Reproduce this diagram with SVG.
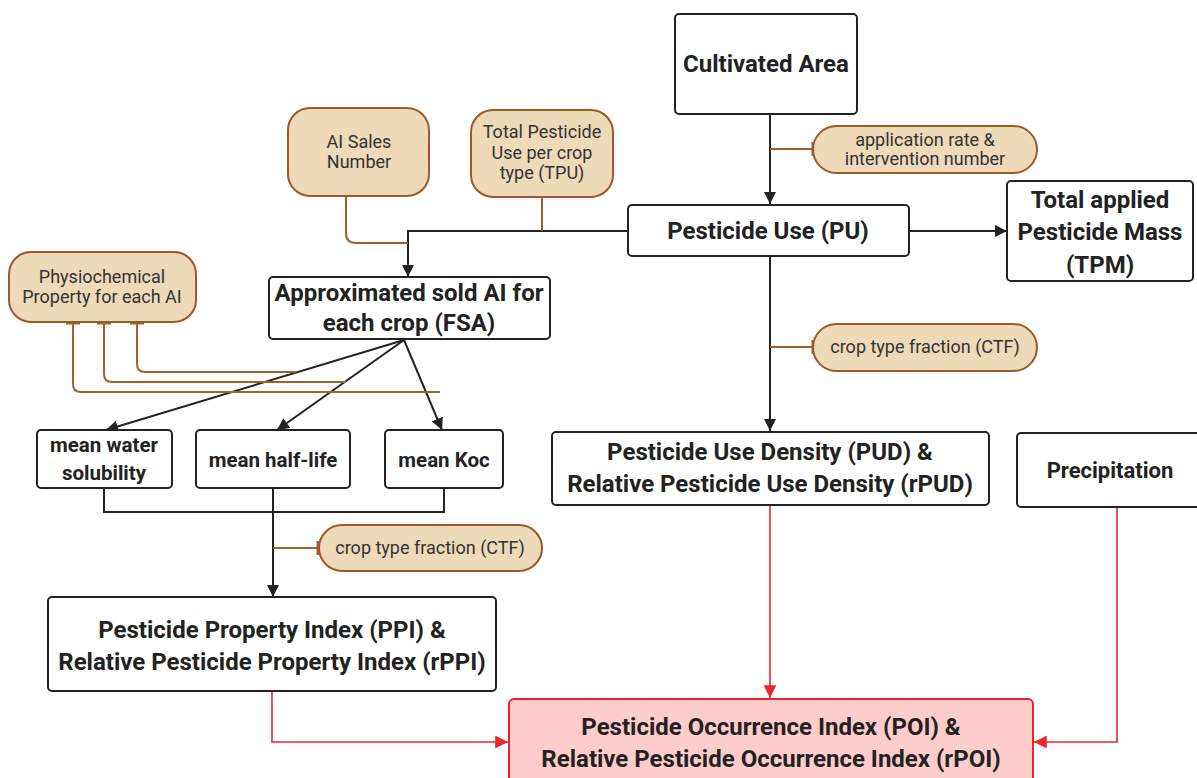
<svg xmlns="http://www.w3.org/2000/svg" width="1197" height="778" viewBox="0 0 1197 778">
<defs>
<style>
.box{fill:#fff;stroke:#222;stroke-width:2}
.pill{fill:#eed9b9;stroke:#9a5a2a;stroke-width:2}
.poi{fill:#ffcccc;stroke:#e8262b;stroke-width:2}
.bt{font-family:Roboto,'Liberation Sans',sans-serif;font-weight:bold;fill:#222;text-anchor:middle}
.pt{font-family:Roboto,'Liberation Sans',sans-serif;fill:#333;text-anchor:middle;font-size:18px}
.blk{fill:none;stroke:#222;stroke-width:2}
.brn{fill:none;stroke:#a0622d;stroke-width:2}
.red{fill:none;stroke:#e8262b;stroke-width:1.6}
.tee{stroke:#a0622d;stroke-width:3}
</style>
<marker id="ab" viewBox="0 0 10 10" refX="10" refY="5" markerWidth="6" markerHeight="6" markerUnits="strokeWidth" orient="auto"><path d="M0,0 L10,5 L0,10 z" fill="#222"/></marker>
<marker id="ar" viewBox="0 0 10 10" refX="10" refY="5" markerWidth="8" markerHeight="8" markerUnits="strokeWidth" orient="auto"><path d="M0,0 L10,5 L0,10 z" fill="#e8262b"/></marker>
</defs>
<rect width="1197" height="778" fill="#fff"/>

<g id="connectors">
<path class="blk" d="M770,115 V204" marker-end="url(#ab)"/>
<path class="blk" d="M909,231 H1007" marker-end="url(#ab)"/>
<path class="blk" d="M628,231 H408 V277" marker-end="url(#ab)"/>
<path class="blk" d="M770,257 V431" marker-end="url(#ab)"/>
<path class="blk" d="M404,340 L106,430" stroke-width="1.6" marker-end="url(#ab)"/>
<path class="blk" d="M404,340 L277,430" stroke-width="2.4" marker-end="url(#ab)"/>
<path class="blk" d="M404,340 L442,430" stroke-width="1.6" marker-end="url(#ab)"/>
<path class="blk" d="M104,488 V512 H444 V488"/>
<path class="blk" d="M273,488 V597" marker-end="url(#ab)"/>
<path class="brn" d="M346,196 V233 Q346,243 356,243 H408"/>
<path class="brn" d="M542,197 V231"/>
<path class="brn" d="M770,149 H813"/>
<line class="tee" x1="813" y1="142" x2="813" y2="156"/>
<path class="brn" d="M770,347 H813"/>
<line class="tee" x1="813" y1="340" x2="813" y2="354"/>
<path class="brn" d="M273,548 H318"/>
<line class="tee" x1="318" y1="541" x2="318" y2="555"/>
<path class="brn" d="M137,322 V364 Q137,372 145,372 H296"/>
<path class="brn" d="M104,322 V374 Q104,382 112,382 H346"/>
<path class="brn" d="M73,322 V384 Q73,392 81,392 H440"/>
<line class="tee" x1="66" y1="323" x2="80" y2="323"/>
<line class="tee" x1="97" y1="323" x2="111" y2="323"/>
<line class="tee" x1="130" y1="323" x2="144" y2="323"/>
<path class="red" d="M770,506 V698" marker-end="url(#ar)"/>
<path class="red" d="M272,692 V742 H508" marker-end="url(#ar)"/>
<path class="red" d="M1117,508 V742 H1034" marker-end="url(#ar)"/>
</g>

<g id="cultivated"><rect class="box" x="675" y="14" width="182" height="100" rx="4"/><text class="bt" x="766" y="72" font-size="24">Cultivated Area</text></g>
<g id="apprate"><rect class="pill" x="813" y="126" width="224" height="47" rx="23.5"/><text class="pt" x="925" y="146">application rate &amp;</text><text class="pt" x="925" y="165">intervention number</text></g>
<g id="pu"><rect class="box" x="628" y="205" width="281" height="51" rx="4"/><text class="bt" x="768" y="239" font-size="24">Pesticide Use (PU)</text></g>
<g id="tpm"><rect class="box" x="1007" y="181" width="186" height="100" rx="4"/><text class="bt" x="1100" y="208" font-size="24">Total applied</text><text class="bt" x="1100" y="240" font-size="24">Pesticide Mass</text><text class="bt" x="1100" y="273" font-size="24">(TPM)</text></g>
<g id="aisales"><rect class="pill" x="288" y="108" width="141" height="88" rx="22"/><text class="pt" x="359" y="148">AI Sales</text><text class="pt" x="359" y="168">Number</text></g>
<g id="tpu"><rect class="pill" x="471" y="110" width="142" height="87" rx="22"/><text class="pt" x="542" y="138">Total Pesticide</text><text class="pt" x="542" y="159">Use per crop</text><text class="pt" x="542" y="179">type (TPU)</text></g>
<g id="physchem"><rect class="pill" x="9" y="252" width="187" height="70" rx="22"/><text class="pt" x="102" y="283">Physiochemical</text><text class="pt" x="102" y="303">Property for each AI</text></g>
<g id="fsa"><rect class="box" x="269" y="277" width="281" height="62" rx="4"/><text class="bt" x="409" y="301" font-size="24">Approximated sold AI for</text><text class="bt" x="409" y="331" font-size="24">each crop (FSA)</text></g>
<g id="ctf1"><rect class="pill" x="813" y="324" width="224" height="47" rx="23.5"/><text class="pt" x="925" y="353">crop type fraction (CTF)</text></g>
<g id="water"><rect class="box" x="37" y="430" width="135" height="58" rx="4"/><text class="bt" x="104" y="452" font-size="20.5">mean water</text><text class="bt" x="104" y="480" font-size="20.5">solubility</text></g>
<g id="halflife"><rect class="box" x="196" y="430" width="154" height="58" rx="4"/><text class="bt" x="273" y="467" font-size="20.5">mean half-life</text></g>
<g id="koc"><rect class="box" x="385" y="430" width="118" height="58" rx="4"/><text class="bt" x="444" y="467" font-size="20.5">mean Koc</text></g>
<g id="pud"><rect class="box" x="552" y="432" width="437" height="73" rx="4"/><text class="bt" x="770" y="460" font-size="24">Pesticide Use Density (PUD) &amp;</text><text class="bt" x="770" y="492" font-size="24">Relative Pesticide Use Density (rPUD)</text></g>
<g id="precip"><rect class="box" x="1017" y="433" width="190" height="74" rx="4"/><text class="bt" x="1110" y="478" font-size="22">Precipitation</text></g>
<g id="ctf2"><rect class="pill" x="319" y="525" width="223" height="46" rx="23"/><text class="pt" x="430" y="554">crop type fraction (CTF)</text></g>
<g id="ppi"><rect class="box" x="48" y="597" width="448" height="94" rx="4"/><text class="bt" x="272" y="638" font-size="24">Pesticide Property Index (PPI) &amp;</text><text class="bt" x="272" y="670" font-size="24">Relative Pesticide Property Index (rPPI)</text></g>
<g id="poi"><rect class="poi" x="509" y="699" width="524" height="90" rx="5"/><text class="bt" x="771" y="735" font-size="24">Pesticide Occurrence Index (POI) &amp;</text><text class="bt" x="771" y="767" font-size="24">Relative Pesticide Occurrence Index (rPOI)</text></g>
</svg>
